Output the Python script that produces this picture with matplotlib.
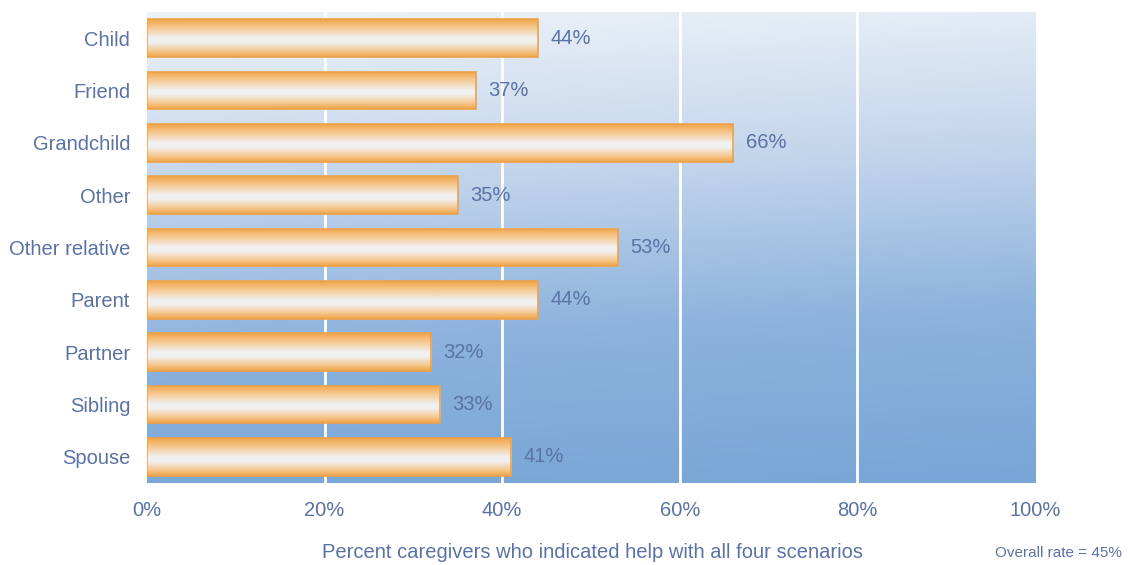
import numpy as np
import matplotlib
matplotlib.use("Agg")
import matplotlib.pyplot as plt
from matplotlib.colors import LinearSegmentedColormap

categories = ["Child", "Friend", "Grandchild", "Other", "Other relative",
              "Parent", "Partner", "Sibling", "Spouse"]
values = [44, 37, 66, 35, 53, 44, 32, 33, 41]
xticks = [0, 20, 40, 60, 80, 100]
overall = 45

txt = "#5a72a4"
plt.rcParams["font.family"] = ["Liberation Sans", "DejaVu Sans"]

fig = plt.figure(figsize=(11.3, 5.65), dpi=100)
ax = fig.add_axes([0.130, 0.145, 0.786, 0.834])

n = len(categories)
ax.set_xlim(0, 100)
ax.set_ylim(n - 0.5, -0.5)

# background: pale at top fading into mid blue at the bottom
bg = LinearSegmentedColormap.from_list("bg", ["#edf2f9", "#c4d6ec", "#8cb2dd", "#78a6d6"])
yy = np.linspace(0, 1, 256)[:, None]
xx = np.linspace(0, 1, 64)[None, :]
grad = np.clip(yy * 0.92 + xx * 0.08, 0, 1)
ax.imshow(grad, cmap=bg, aspect="auto", extent=[0, 100, n - 0.5, -0.5],
          zorder=0, interpolation="bicubic")

for x in xticks[1:-1]:
    ax.axvline(x, color="white", lw=2, zorder=1)

# bars with a cylinder-like orange/white shading
barcm = LinearSegmentedColormap.from_list(
    "bar", [(0.0, "#f1a548"), (0.22, "#f5c78e"), (0.5, "#f1f1f3"), (0.62, "#f1f0f0"),
            (0.84, "#f5c890"), (1.0, "#f1a548")])
shade = np.linspace(0, 1, 128)[:, None]
h = 0.72
for i, (cat, v) in enumerate(zip(categories, values)):
    bar = ax.barh(i, v, height=h, color="none", edgecolor="#eda24a", lw=1.2, zorder=3)[0]
    im = ax.imshow(shade, cmap=barcm, aspect="auto", extent=[0, v, i + h / 2, i - h / 2],
                   zorder=2, interpolation="bicubic")
    im.set_clip_path(bar)
    ax.text(v + 1.4, i, f"{v}%", va="center", ha="left", fontsize=14.5, color=txt, zorder=4)

ax.set_xlim(0, 100)
ax.set_ylim(n - 0.5, -0.5)
ax.set_yticks(range(n))
ax.set_yticklabels(categories, fontsize=14.5, color=txt)
ax.set_xticks(xticks)
ax.set_xticklabels([f"{x}%" for x in xticks], fontsize=14.5, color=txt)
ax.tick_params(length=0, axis="y", pad=12)
ax.tick_params(length=0, axis="x", pad=13)
for s in ax.spines.values():
    s.set_visible(False)

fig.text(0.524, 0.005, "Percent caregivers who indicated help with all four scenarios",
         ha="center", va="bottom", fontsize=14.5, color=txt)
fig.text(0.993, 0.008, f"Overall rate = {overall}%", ha="right", va="bottom",
         fontsize=11, color=txt)

fig.savefig("out.png", dpi=100)
